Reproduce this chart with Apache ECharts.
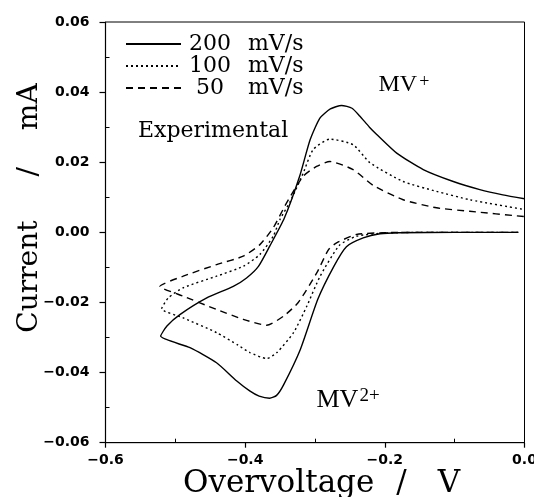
<!DOCTYPE html>
<html>
<head>
<meta charset="utf-8">
<script src="https://cdn.jsdelivr.net/npm/echarts@6/dist/echarts.min.js"></script>
<style>
  html, body { margin: 0; padding: 0; background: #fff; }
  #chart { width: 534px; height: 497px; }
</style>
</head>
<body>
<div id="chart"></div>
<script>
// Scan rates (series names)
const scanRates = ['200 mV/s', '100 mV/s', '50 mV/s'];

// Overvoltage (V) and current (mA): cathodic sweep from 0 V, then the anodic return
const e200 = [-0.009, -0.10, -0.18, -0.207, -0.231, -0.255, -0.273, -0.296, -0.321, -0.345, -0.355, -0.365, -0.380, -0.393, -0.412, -0.441, -0.479, -0.521,
              -0.512, -0.493, -0.455, -0.417, -0.398, -0.381, -0.365, -0.344, -0.322, -0.307, -0.293, -0.278, -0.262, -0.247, -0.236, -0.222, -0.212, -0.183, -0.145, -0.102, -0.064, -0.031, 0.000];
const i200 = [0.0000, 0.0000, -0.0001, -0.0004, -0.0016, -0.0041, -0.0097, -0.0191, -0.0334, -0.0435, -0.0465, -0.0473, -0.0467, -0.0453, -0.0424, -0.0372, -0.0329, -0.0296,
              -0.0267, -0.0234, -0.0187, -0.0154, -0.0130, -0.0097, -0.0040, 0.0040, 0.0160, 0.0264, 0.0326, 0.0352, 0.0362, 0.0354, 0.0332, 0.0300, 0.0280, 0.0226, 0.0179, 0.0145, 0.0122, 0.0107, 0.0096];

const e100 = [-0.009, -0.15, -0.20, -0.2405, -0.265, -0.2926, -0.3116, -0.3307, -0.3546, -0.3693, -0.3932, -0.41, -0.4409, -0.4887, -0.5196,
              -0.5101, -0.4887, -0.4409, -0.4028, -0.3789, -0.3598, -0.3503, -0.335, -0.3169, -0.3026, -0.2787, -0.2454, -0.2215, -0.1738, -0.126, -0.0784, 0.0];
const i100 = [0.0, 0.0, -0.0002, -0.0011, -0.0037, -0.0125, -0.021, -0.0286, -0.0343, -0.036, -0.0343, -0.0322, -0.0286, -0.0244, -0.0218,
              -0.0187, -0.0158, -0.0125, -0.0097, -0.0063, -0.0011, 0.0036, 0.009, 0.0169, 0.0236, 0.0266, 0.025, 0.0199, 0.0145, 0.0117, 0.0093, 0.0065];

const e50 = [-0.009, -0.15, -0.20, -0.2405, -0.2691, -0.2806, -0.2973, -0.324, -0.345, -0.3693, -0.4028, -0.4409, -0.4887, -0.522,
             -0.4887, -0.4409, -0.4028, -0.3789, -0.3598, -0.3407, -0.3169, -0.2978, -0.2787, -0.2454, -0.2167, -0.1738, -0.126, -0.0784, 0.0];
const i50 = [0.0, 0.0, -0.0001, -0.0006, -0.003, -0.0049, -0.0115, -0.020, -0.0239, -0.0265, -0.0248, -0.022, -0.0182, -0.0154,
             -0.0125, -0.0092, -0.0068, -0.0035, 0.0013, 0.0084, 0.016, 0.0188, 0.0202, 0.0179, 0.0134, 0.0093, 0.007, 0.006, 0.0045];

// Tick labels
const xTickLabels = ['\u22120.6', '\u22120.4', '\u22120.2', '0.0'];
const yTickLabels = ['\u22120.06', '\u22120.04', '\u22120.02', '0.00', '0.02', '0.04', '0.06'];

const potentials = [e200, e100, e50];
const currents = [i200, i100, i50];
const dashTypes = ['solid', [2, 3], [7, 5]];

const X_MIN = -0.6, X_MAX = 0, X_STEP = 0.2;
const Y_MIN = -0.06, Y_MAX = 0.06, Y_STEP = 0.02;

// plot box in pixels
const GRID = { left: 105.5, right: 9.5, top: 22, bottom: 54.3 };
const W = 534, H = 497;
const plotW = W - GRID.left - GRID.right;
const plotH = H - GRID.top - GRID.bottom;

const labelFont = { fontFamily: 'DejaVu Sans', fontWeight: 'bold', fontSize: 14, color: '#000' };
const serif = '"DejaVu Serif"';

function pairs(xs, ys) { return xs.map((x, i) => [x, ys[i]]); }

const chart = echarts.init(document.getElementById('chart'), null, { renderer: 'canvas' });

chart.setOption({
  animation: false,
  backgroundColor: '#fff',
  grid: Object.assign({
    show: true, borderColor: '#000', borderWidth: 1,
    outerBoundsMode: 'none'
  }, GRID),
  legend: {
    data: scanRates,
    orient: 'vertical',
    left: 120, top: 28,
    itemWidth: 55, itemHeight: 14, itemGap: 0,
    selectedMode: false,
    itemStyle: { opacity: 0 },
    formatter: name => {
      const p = name.split(' ');
      return '{n|' + p[0] + '}{u|' + p[1] + '}';
    },
    textStyle: {
      fontFamily: 'DejaVu Serif', fontSize: 22, color: '#000', lineHeight: 21.5,
      rich: {
        n: { width: 48, align: 'right', fontFamily: 'DejaVu Serif', fontSize: 22, lineHeight: 21.5 },
        u: { padding: [0, 0, 0, 14], fontFamily: 'DejaVu Serif', fontSize: 22, lineHeight: 21.5 }
      }
    }
  },
  xAxis: [{
    type: 'value', min: X_MIN, max: X_MAX, interval: X_STEP,
    axisLine: { show: true, onZero: false, lineStyle: { color: '#000', width: 1.2 } },
    axisTick: { show: true, inside: false, length: 5, lineStyle: { color: '#000', width: 1.2 } },
    axisLabel: Object.assign({ margin: 11, formatter: v => xTickLabels[Math.round((v - X_MIN) / X_STEP)] }, labelFont),
    splitLine: { show: false }
  }, {
    // minor ticks along the bottom edge, pointing into the plot
    type: 'value', min: X_MIN, max: X_MAX, interval: X_STEP, position: 'top', offset: -plotH,
    axisLine: { show: false, onZero: false },
    axisTick: { show: false, inside: false },
    minorTick: { show: true, splitNumber: 2, length: 4, lineStyle: { color: '#000', width: 1 } },
    axisLabel: { show: false },
    splitLine: { show: false }
  }],
  yAxis: [{
    type: 'value', min: Y_MIN, max: Y_MAX, interval: Y_STEP,
    axisLine: { show: true, onZero: false, lineStyle: { color: '#000', width: 1.2 } },
    axisTick: { show: true, inside: false, length: 6, lineStyle: { color: '#000', width: 1.2 } },
    axisLabel: Object.assign({ margin: 16, formatter: v => yTickLabels[Math.round((v - Y_MIN) / Y_STEP)] }, labelFont),
    splitLine: { show: false }
  }, {
    // minor ticks along the left edge, pointing into the plot
    type: 'value', min: Y_MIN, max: Y_MAX, interval: Y_STEP, position: 'right', offset: -plotW,
    axisLine: { show: false, onZero: false },
    axisTick: { show: false, inside: false },
    minorTick: { show: true, splitNumber: 2, length: 4, lineStyle: { color: '#000', width: 1 } },
    axisLabel: { show: false },
    splitLine: { show: false }
  }],
  series: scanRates.map((name, k) => ({
    name: name,
    type: 'line',
    data: pairs(potentials[k], currents[k]),
    symbol: 'none',
    showSymbol: false,
    smooth: 0.2,
    lineStyle: { color: '#000', width: 1.4, type: dashTypes[k] },
    itemStyle: { color: '#000' },
    z: 3
  })),
  graphic: [
    {
      type: 'text', x: 30, y: 208, rotation: Math.PI / 2,
      style: {
        text: 'Current{g| }/{h| }mA',
        font: '28px ' + serif, fill: '#000', align: 'center', verticalAlign: 'middle',
        rich: { g: { width: 44 }, h: { width: 37 } }
      }
    },
    {
      type: 'text', x: 183, y: 484,
      style: {
        text: 'Overvoltage{g| }/{h| }V',
        font: '31px ' + serif, fill: '#000', align: 'left', verticalAlign: 'middle',
        rich: { g: { width: 22 }, h: { width: 31 } }
      }
    },
    {
      type: 'text', x: 138, y: 131,
      style: { text: 'Experimental', font: '22px ' + serif, fill: '#000', align: 'left', verticalAlign: 'middle' }
    },
    {
      type: 'text', x: 378.5, y: 85,
      style: {
        text: 'MV{s|+}', font: '24px "Liberation Serif"', fill: '#000', align: 'left', verticalAlign: 'middle',
        rich: { s: { fontSize: 18, fontFamily: 'Liberation Serif', verticalAlign: 'top', padding: [0, 0, 0, 2] } }
      }
    },
    {
      type: 'text', x: 316.5, y: 400,
      style: {
        text: 'MV{s|2+}', font: '26px "Liberation Serif"', fill: '#000', align: 'left', verticalAlign: 'middle',
        rich: { s: { fontSize: 19, fontFamily: 'Liberation Serif', verticalAlign: 'top', padding: [0, 0, 0, 1] } }
      }
    }
  ]
});
</script>
</body>
</html>
